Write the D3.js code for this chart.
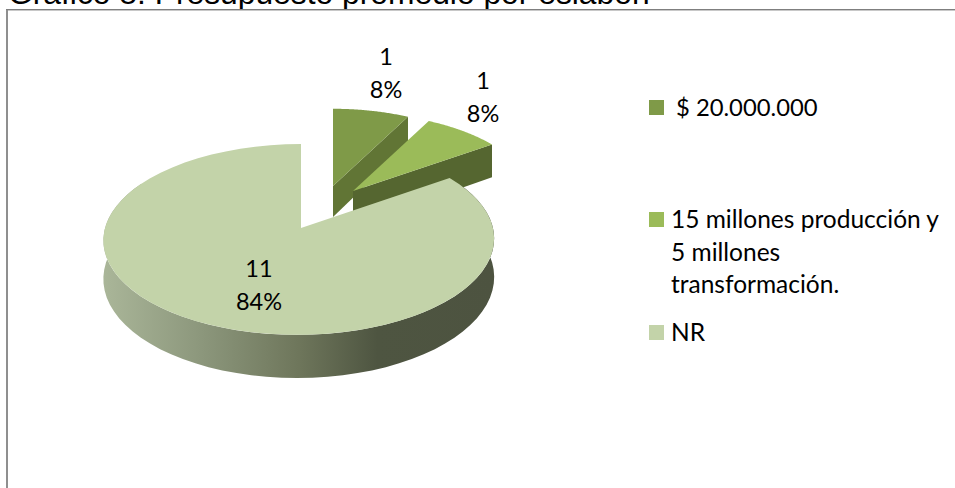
<!DOCTYPE html>
<html>
<head>
<meta charset="utf-8">
<script src="https://d3js.org/d3.v7.min.js"></script>
<style>
  body { margin: 0; background: #fff; overflow: hidden; }
  text { font-family: Lato, sans-serif; fill: #000; }
  .title { font-family: "Liberation Sans", Arial, sans-serif; font-size: 31.8px; }
</style>
</head>
<body>
<div id="chart"></div>
<script>

// data
var categories = ["$ 20.000.000", "15 millones producción y 5 millones transformación.", "NR"];
var values = [1, 1, 11];
var percents = ["8%", "8%", "84%"];
var legendLines = [["$ 20.000.000"], ["15 millones producción y", "5 millones", "transformación."], ["NR"]];

var topColors = ["#7f9a48", "#9bbb59", "#c3d3a9"];
var wallColors = ["#617535", "#556630", "url(#wallShade)"];

var width = 955, height = 488;

// where each exploded slice sits: apex, shrink (perspective), skew and thickness
var sliceLayout = [
  {x: 333, y: 186, k: 0.92, skew: 0, depth: 31},
  {x: 353, y: 191, k: 0.93, skew: 0, depth: 35},
  {x: 301, y: 228, k: 1, skew: -2, depth: 38}
];
var labelLayout = [[386, 65], [483, 89], [259, 277]];
var legendY = [108, 220, 333];
var legendX = [676, 671, 671];
var legendSize = [23.8, 24.5, 24.5];

var rx = 194, ry = 94, persp = 0.12;

var svg = d3.select("#chart").append("svg")
  .attr("width", width)
  .attr("height", height);

var grad = svg.append("defs").append("linearGradient")
  .attr("id", "wallShade")
  .attr("gradientUnits", "userSpaceOnUse")
  .attr("x1", 103).attr("x2", 495).attr("y1", 0).attr("y2", 0);
[[0, "#aab699"], [0.25, "#8c977c"], [0.5, "#6e765b"], [0.7, "#4e5541"], [1, "#4d5340"]].forEach(function(s) {
  grad.append("stop").attr("offset", s[0]).attr("stop-color", s[1]);
});

// title, cut by the top of the picture
svg.append("text")
  .attr("class", "title")
  .attr("x", 8)
  .attr("y", 3.5)
  .text("Gráfico 8: Presupuesto promedio por eslabón");

// frame
svg.append("path").attr("d", "M7," + height + "V9").attr("fill", "none").attr("stroke", "#8f8f8f").attr("stroke-width", 2);
svg.append("path").attr("d", "M6,9.5H" + width).attr("fill", "none").attr("stroke", "#7f7f7f");
svg.append("path").attr("d", "M8,10.5H" + width).attr("fill", "none").attr("stroke", "#c8c8c8");

var pie = d3.pie().sort(null).value(function(d) { return d; });
var arcs = pie(values);

// tilted pie with a bit of perspective
function project(a, angle, drop) {
  var u = Math.sin(angle), v = Math.cos(angle);
  var s = a.k / (1 + persp * v);
  return [a.x + rx * u * s + a.skew * (1 - v), a.y - ry * v * s + (drop ? a.depth / (1 + persp * v) : 0)];
}

var line = d3.line();

function topPath(a, d) {
  var pts = [[a.x, a.y]];
  d3.range(0, 61).forEach(function(i) {
    pts.push(project(a, d.startAngle + (d.endAngle - d.startAngle) * i / 60));
  });
  return line(pts) + "Z";
}

// outer wall of the big slice
function outerWall(a, from, to) {
  var upper = [], lower = [];
  d3.range(0, 61).forEach(function(i) {
    var t = from + (to - from) * i / 60;
    upper.push(project(a, t));
    lower.push(project(a, t, true));
  });
  return line(upper.concat(lower.reverse())) + "Z";
}

// cut face along the end angle of a small slice
function cutWall(a, angle) {
  var p = project(a, angle), q = project(a, angle, true);
  return line([[a.x, a.y], p, q, [a.x, a.y + a.depth]]) + "Z";
}

arcs.forEach(function(d, i) {
  var a = sliceLayout[i];
  if (i < 2) {
    svg.append("path").attr("d", cutWall(a, d.endAngle)).attr("fill", wallColors[i]);
  } else {
    svg.append("path").attr("d", outerWall(a, Math.PI / 3, Math.PI * 5 / 3)).attr("fill", wallColors[i]);
  }
  svg.append("path").attr("d", topPath(a, d)).attr("fill", topColors[i]);
});

// data labels
arcs.forEach(function(d, i) {
  var t = svg.append("text")
    .attr("text-anchor", "middle")
    .style("font-size", "23.5px");
  t.append("tspan").attr("x", labelLayout[i][0]).attr("y", labelLayout[i][1]).text(values[i]);
  t.append("tspan").attr("x", labelLayout[i][0]).attr("y", labelLayout[i][1] + 33).text(percents[i]);
});

// legend
categories.forEach(function(c, i) {
  svg.append("rect")
    .attr("x", 649).attr("y", legendY[i] - 8)
    .attr("width", 15).attr("height", 15)
    .attr("fill", topColors[i]);
  legendLines[i].forEach(function(l, j) {
    svg.append("text")
      .attr("x", legendX[i])
      .attr("y", legendY[i] + 8 + j * 32.7)
      .style("font-size", legendSize[i] + "px")
      .text(l);
  });
});

</script>
</body>
</html>
